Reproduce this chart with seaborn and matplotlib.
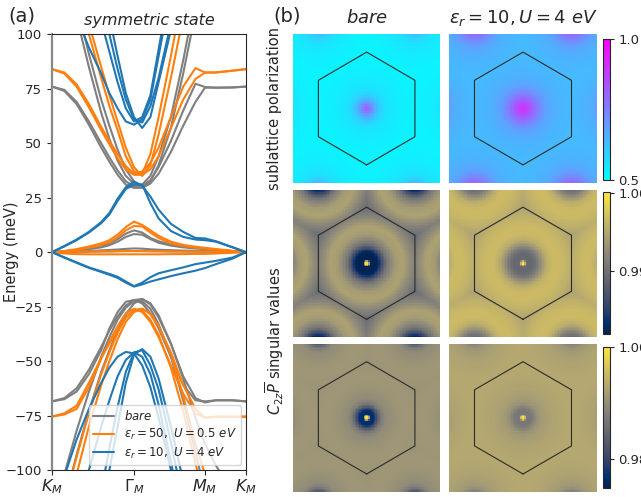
import numpy as np
import pandas as pd
import seaborn as sns
import matplotlib.pyplot as plt

sns.set_style('ticks')
plt.rcParams['font.family'] = ['DejaVu Sans']

# ---- panel (a): band structure along K - Gamma - M - K ----
k_nodes = [0, 0.15, 0.3, 0.45, 0.6, 0.7, 0.8, 0.9, 1.0, 1.1, 1.2, 1.3, 1.45, 1.6, 1.75, 1.866, 2.0, 2.2, 2.366]
k_ticks = [0, 1.0, 1.866, 2.366]
k_labels = ['$K_M$', r'$\Gamma_M$', '$M_M$', '$K_M$']

bare_bands = [
    [76, 74.5, 69, 60, 50, 43.5, 37.5, 32.5, 30.2, 30.5, 33, 39, 51, 65, 77.3, 75.8, 75.5, 75.6, 76],
    [76, 74, 68, 58.5, 48, 41.5, 35.5, 31, 29.5, 29.5, 31.5, 36, 46, 58, 69, 75.5, 75.5, 75.6, 76],
    [160, 133, 108, 85, 64, 52, 42, 35, 31.5, 31, 35, 44, 62, 88, 117, 140, 160, 180, 190],
    [168, 140, 114, 91, 70, 58, 47, 38, 32.5, 30, 32.5, 40, 57, 82, 110, 133, 155, 175, 185],
    [0, 0.4, 1.0, 1.8, 2.8, 4.0, 6.0, 8.5, 10.0, 9.0, 6.5, 5.0, 3.5, 2.5, 2.0, 1.6, 1.1, 0.5, 0],
    [0, 0.3, 0.8, 1.4, 2.2, 3.2, 4.8, 7.0, 8.3, 8.0, 6.0, 4.3, 3.0, 2.2, 1.7, 1.4, 1.0, 0.4, 0],
    [0, 0.1, 0.3, 0.5, 0.8, 1.0, 1.2, 1.5, 1.7, 1.6, 1.3, 1.1, 0.9, 0.7, 0.6, 0.5, 0.4, 0.2, 0],
    [0, 0, 0.1, 0.2, 0.3, 0.3, 0.4, 0.5, 0.5, 0.5, 0.4, 0.4, 0.3, 0.3, 0.2, 0.2, 0.2, 0.1, 0],
    [-68.5, -67.5, -64, -56, -45, -35, -27.5, -22.8, -22, -23.5, -28, -35, -48, -61, -68, -68.5, -68, -68, -68.5],
    [-68.5, -67, -62.5, -54, -43.5, -36, -29.5, -24.5, -22, -21.5, -24, -30, -42, -57, -67, -69, -68, -68, -68.5],
    [-125, -102, -82, -64, -48, -39, -31, -25.5, -22.5, -22.5, -26, -33, -48, -68, -92, -110, -130, -150, -160],
    [-140, -115, -93, -73, -55, -45, -36, -28.5, -23.5, -21.5, -23.5, -29, -42, -58, -76, -88, -98, -110, -115],
]

eps50_bands = [
    [84, 82.5, 77, 68, 57.5, 51, 45, 39.5, 36, 37, 41, 48, 62, 76, 84.5, 82.5, 82.5, 83.3, 84],
    [84, 82, 76, 66.5, 56, 49.5, 43, 38, 35.5, 35.5, 38, 44, 57, 70, 79.5, 82.4, 82.5, 83.3, 84],
    [175, 150, 122, 100, 80, 67, 56, 44, 37, 36, 45, 62, 90, 120, 150, 170, 190, 200, 205],
    [180, 155, 128, 105, 85, 72, 60, 48, 39, 35, 40, 54, 80, 108, 138, 160, 180, 195, 200],
    [0, 0.5, 1.4, 2.6, 4.0, 5.5, 8.0, 11.5, 14.0, 12.5, 10.0, 7.5, 4.8, 3.3, 2.5, 2.0, 1.4, 0.6, 0],
    [0, 0.4, 1.1, 2.0, 3.2, 4.5, 6.8, 10.0, 12.0, 11.8, 9.0, 6.5, 4.0, 2.8, 2.1, 1.7, 1.2, 0.5, 0],
    [0, 0.1, 0.2, 0.3, 0.4, 0.4, 0.5, 0.5, 0.5, 0.5, 0.5, 0.4, 0.4, 0.3, 0.3, 0.3, 0.2, 0.1, 0],
    [0, -0.6, -0.9, -1.0, -1.0, -1.0, -1.0, -1.0, -1.0, -1.0, -1.0, -1.0, -0.9, -0.9, -0.8, -0.8, -0.6, -0.3, 0],
    [-75.5, -74.5, -72, -62, -49, -41, -34, -28, -26, -27.5, -32, -39, -52, -65, -74, -76, -75.5, -75.5, -75.5],
    [-75.5, -74, -70.5, -60, -48.5, -42, -36, -30, -26.5, -26, -28.5, -34, -46, -61, -72, -76, -75.5, -75.5, -75.5],
    [-140, -115, -94, -74, -56, -46, -37, -30, -26.5, -27, -31, -38, -53, -73, -97, -115, -135, -155, -165],
    [-150, -125, -102, -80, -61, -50, -40, -32, -27.5, -26, -28, -34, -47, -66, -88, -102, -118, -135, -140],
]

eps10_bands = [
    [150, 128, 108, 94, 82, 73, 66, 60, 58.5, 61, 70, 90, 120, 150, 180, 200, 220, 240, 250],
    [200, 180, 160, 135, 106, 92, 78, 66, 60, 62, 72, 93, 125, 160, 190, 210, 230, 250, 260],
    [220, 200, 175, 150, 125, 108, 90, 73, 62, 57, 62, 78, 102, 135, 165, 190, 210, 230, 240],
    [210, 190, 165, 140, 116, 100, 84, 70, 61, 59.5, 67, 80, 105, 135, 165, 190, 210, 230, 240],
    [0, 2.8, 5.8, 9.3, 13.8, 18, 24.5, 29.8, 32.4, 30.5, 25.5, 19.5, 13, 9.3, 6.5, 6.3, 5, 2.3, 0],
    [0, 2.6, 5.5, 9.0, 13.3, 17.3, 23.5, 29, 31, 31, 22.5, 15.5, 9.7, 7, 5.8, 5.5, 4.8, 2.2, 0],
    [0, -2.4, -4.7, -7, -8.8, -10, -11.3, -13.5, -15.6, -14, -11.5, -9.7, -8.3, -7, -5.5, -4.8, -4, -2.5, 0],
    [0, -2.5, -4.9, -7.2, -9.1, -10.4, -11.8, -14, -15.8, -14.8, -13.5, -12.5, -11, -9.7, -8.5, -7.3, -5.5, -3, 0],
    [-130, -103, -86, -72, -60, -53, -48, -45.8, -46.5, -52, -62, -76, -100, -125, -150, -170, -190, -210, -220],
    [-170, -148, -124, -100, -80, -68, -57, -49.5, -46, -48, -56, -70, -96, -125, -155, -175, -195, -215, -225],
    [-220, -200, -175, -150, -120, -100, -80, -60, -47, -44.5, -48, -58, -80, -105, -135, -160, -180, -200, -210],
    [-210, -190, -165, -140, -110, -90, -71, -55, -46, -45, -52, -63, -87, -115, -145, -165, -185, -205, -215],
]

model_labels = [r'$bare$', r'$\epsilon_r=50,\ U=0.5\ eV$', r'$\epsilon_r=10,\ U=4\ eV$']
model_colors = ['tab:gray', 'tab:orange', 'tab:blue']

# ---- panel (b): radial profiles around Gamma ----
r_nodes = [0, 0.012, 0.024, 0.05, 0.075, 0.1, 0.13, 0.16, 0.2, 0.25, 0.3, 0.38, 0.5]
pol_bare = [0.82, 0.80, 0.76, 0.68, 0.62, 0.585, 0.56, 0.548, 0.54, 0.533, 0.528, 0.525, 0.525]
pol_eps10 = [0.90, 0.895, 0.88, 0.84, 0.79, 0.75, 0.71, 0.68, 0.66, 0.648, 0.64, 0.635, 0.635]
sv1_bare = [1.0, 0.999, 0.9825, 0.982, 0.9825, 0.986, 0.99, 0.992, 0.994, 0.9945, 0.9925, 0.9895, 0.989]
sv1_eps10 = [1.0, 0.999, 0.9895, 0.989, 0.9895, 0.991, 0.9935, 0.9955, 0.9965, 0.9965, 0.996, 0.9945, 0.994]
sv2_bare = [1.0, 0.999, 0.9765, 0.977, 0.983, 0.9875, 0.9895, 0.99, 0.9905, 0.991, 0.991, 0.9905, 0.9905]
sv2_eps10 = [1.0, 0.999, 0.987, 0.9868, 0.9885, 0.9905, 0.9915, 0.992, 0.9925, 0.9928, 0.993, 0.993, 0.993]

col_titles = [r'$bare$', r'$\epsilon_r=10, U=4\ eV$']


def box(x0, y0, x1, y1):
    # pixel box -> figure fraction
    return [x0 / 641, 1 - y1 / 497, (x1 - x0) / 641, (y1 - y0) / 497]


fig = plt.figure(figsize=(6.41, 4.97), dpi=100)

# ---------------- (a) ----------------
rows = []
for label, bands in zip(model_labels, [bare_bands, eps50_bands, eps10_bands]):
    for i, band in enumerate(bands):
        for kk, ee in zip(k_nodes, band):
            rows.append({'k': kk, 'E': ee, 'model': label, 'band': f'{label}_{i}'})
bands_df = pd.DataFrame(rows)

ax_a = fig.add_axes(box(52, 34.3, 246, 470))
sns.lineplot(data=bands_df, x='k', y='E', hue='model', hue_order=model_labels,
             palette=dict(zip(model_labels, model_colors)), units='band',
             estimator=None, sort=False, lw=1.5, ax=ax_a)
ax_a.set_xlim(k_nodes[0], k_nodes[-1])
ax_a.set_ylim(-100, 100)
ax_a.set_xticks(k_ticks)
ax_a.set_xticklabels(k_labels, fontsize=11.5)
ax_a.tick_params(axis='x', pad=2)
ax_a.set_yticks([-100, -75, -50, -25, 0, 25, 50, 75, 100])
ax_a.tick_params(axis='y', labelsize=9.5)
ax_a.spines['left'].set_color('#888888')
ax_a.spines['left'].set_linewidth(1.6)
ax_a.set_xlabel('')
ax_a.set_ylabel('Energy (meV)', fontsize=10.5)
ax_a.yaxis.set_label_coords(-0.17, 0.5)
ax_a.set_title('symmetric state', fontsize=11.5, style='italic', pad=7)
sns.move_legend(ax_a, 'lower right', title=None, fontsize=8.5, frameon=True,
                labelspacing=0.3, handlelength=1.8, borderpad=0.35, borderaxespad=0.45)

fig.text(8 / 641, 1 - 16 / 497, '(a)', fontsize=14, va='center')
fig.text(273 / 641, 1 - 16 / 497, '(b)', fontsize=14, va='center')

# ---------------- (b) ----------------
N = 100
R_hex = 0.38
a_lat = np.sqrt(3) * R_hex
u = (np.arange(N) + 0.5) / N
X, Y = np.meshgrid(u, u)
dist = np.full_like(X, 10.0)
for n in range(-2, 3):
    for m in range(-2, 3):
        gx = 0.5 + a_lat * (n + 0.5 * m)
        gy = 0.5 + a_lat * (np.sqrt(3) / 2 * m)
        dist = np.minimum(dist, np.hypot(X - gx, Y - gy))

th = np.deg2rad(90 + 60 * np.arange(7))
hex_x = N * (0.5 + R_hex * np.cos(th))
hex_y = N * (0.5 + R_hex * np.sin(th))

col_x = [(293.3, 440), (449.3, 596.7)]
row_y = [(34.3, 182.7), (189.5, 337), (344, 491.7)]
cbar_y = [(39, 180), (192.5, 334), (347, 487.5)]
row_maps = [(pol_bare, pol_eps10), (sv1_bare, sv1_eps10), (sv2_bare, sv2_eps10)]
row_cmaps = ['cool', 'cividis', 'cividis']
row_lims = [(0.5, 1.0), (0.982, 1.0), (0.975, 1.0)]
row_ticks = [([0.5, 1.0], ['0.5', '1.0']), ([0.99, 1.0], ['0.99', '1.00']), ([0.98, 1.0], ['0.98', '1.00'])]

for r in range(3):
    cax = fig.add_axes(box(603.3, cbar_y[r][0], 609.5, cbar_y[r][1]))
    for c in range(2):
        ax = fig.add_axes(box(col_x[c][0], row_y[r][0], col_x[c][1], row_y[r][1]))
        field = np.interp(dist, r_nodes, row_maps[r][c])
        sns.heatmap(field, ax=ax, cmap=row_cmaps[r], vmin=row_lims[r][0], vmax=row_lims[r][1],
                    cbar=(c == 1), cbar_ax=cax if c == 1 else None,
                    xticklabels=False, yticklabels=False)
        ax.plot(hex_x, hex_y, color='#2b2b2b', lw=0.8)
        ax.tick_params(left=False, bottom=False)
        if r == 0:
            ax.set_title(col_titles[c], fontsize=13, pad=8)
        if c == 1:
            cb = ax.collections[0].colorbar
            cb.set_ticks(row_ticks[r][0])
            cb.set_ticklabels(row_ticks[r][1])
            cb.ax.tick_params(labelsize=9.5, length=3, width=0.8)
            cb.outline.set_visible(True)
            cb.outline.set_linewidth(0.8)

fig.text(275 / 641, 1 - 108 / 497, 'sublattice polarization', rotation=90,
         ha='center', va='center', fontsize=10.5)
fig.text(275 / 641, 1 - 341 / 497, r'$C_{2z}\overline{P}$ singular values', rotation=90,
         ha='center', va='center', fontsize=10.5)

fig.savefig('out.png', dpi=100)
